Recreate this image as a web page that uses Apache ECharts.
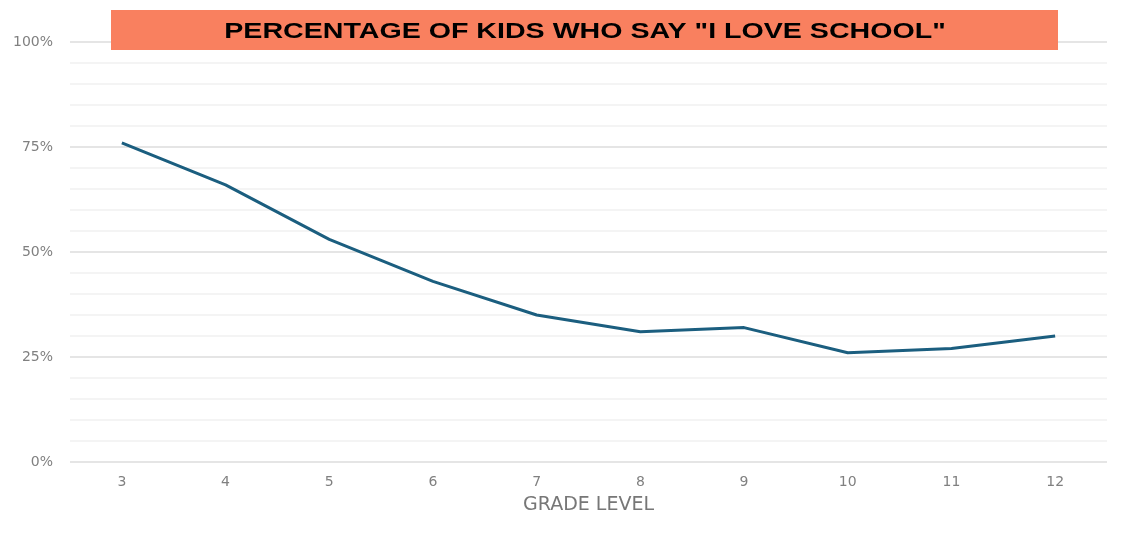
<!DOCTYPE html>
<html>
<head>
<meta charset="utf-8">
<script src="https://cdn.jsdelivr.net/npm/echarts@6/dist/echarts.min.js"></script>
<style>
  html, body { margin: 0; padding: 0; background: #fff; }
  #container { width: 1138px; height: 544px; }
</style>
</head>
<body>
<div id="container"></div>
<script>
let grades = ['3', '4', '5', '6', '7', '8', '9', '10', '11', '12'];
let lovePct = [76, 66, 53, 43, 35, 31, 32, 26, 27, 30];
let yTicks = [0, 25, 50, 75, 100];

let dom = document.getElementById('container');
let chart = echarts.init(dom);

chart.setOption({
    animation: false,
    graphic: [{
        type: 'rect',
        left: 111,
        top: 10,
        z: 100,
        shape: { width: 947, height: 40 },
        style: { fill: '#F9805F' }
    }, {
        // title text looks stretched wide in the original, so scale it
        type: 'text',
        x: 585,
        y: 32,
        z: 101,
        scaleX: 1.3,
        style: {
            text: 'PERCENTAGE OF KIDS WHO SAY "I LOVE SCHOOL"',
            font: 'bold 22px "Liberation Sans", Arial, sans-serif',
            fill: '#000',
            align: 'center',
            verticalAlign: 'middle'
        }
    }],
    grid: { left: 70, right: 31, top: 42, bottom: 82 },
    xAxis: {
        type: 'category',
        data: grades,
        boundaryGap: true,
        name: 'GRADE LEVEL',
        nameLocation: 'middle',
        nameGap: 34,
        nameTextStyle: { color: '#777', fontSize: 19, fontFamily: 'DejaVu Sans' },
        axisLine: { show: false },
        axisTick: { show: false },
        axisLabel: { color: '#808080', fontSize: 14, margin: 13, fontFamily: 'DejaVu Sans' }
    },
    yAxis: {
        type: 'value',
        min: 0,
        max: 100,
        interval: 5,
        axisLine: { show: false },
        axisTick: { show: false },
        axisLabel: {
            color: '#808080',
            fontSize: 14,
            margin: 17,
            fontFamily: 'DejaVu Sans',
            formatter: (v) => yTicks.includes(v) ? v + '%' : ''
        },
        splitLine: {
            lineStyle: {
                color: ['#dcdcdc', '#f1f1f1', '#f1f1f1', '#f1f1f1', '#f1f1f1'],
                width: 1.5
            }
        }
    },
    series: [{
        type: 'line',
        data: lovePct,
        symbol: 'none',
        lineStyle: { color: '#1b5e7f', width: 3 }
    }]
});
</script>
</body>
</html>
